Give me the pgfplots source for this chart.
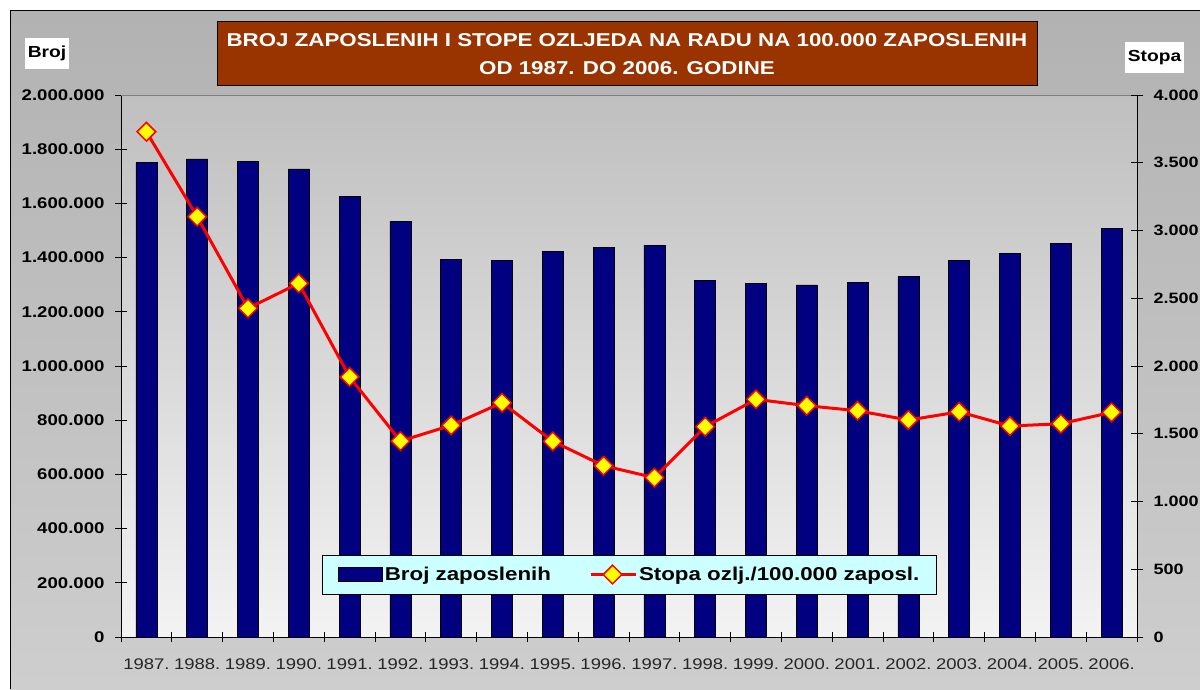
\documentclass[border=0pt]{standalone}
\usepackage{fontspec}
\setmainfont{Liberation Sans}[FakeStretch=1.2]
\usepackage{pgfplots}
\pgfplotsset{compat=1.18}
\definecolor{navybar}{HTML}{000080}
\definecolor{titlebrown}{HTML}{993300}
\definecolor{legcyan}{HTML}{CCFFFF}
\definecolor{outtop}{HTML}{B2B2B2}
\definecolor{outbot}{HTML}{CECECE}
\definecolor{plottop}{HTML}{BFBFBF}
\definecolor{plotbot}{HTML}{F3F3F3}
\definecolor{diamy}{HTML}{FFFF00}
\pgfplotsset{
  mylegline/.style={legend image code/.code={\draw[mark repeat=2,mark phase=2,##1] plot coordinates {(0pt,0pt)(22pt,0pt)(45pt,0pt)};}},
  mylegbar/.style={legend image code/.code={\draw[fill=navybar, draw=black, line width=1.2pt] (0pt,-7pt) rectangle (44pt,7pt);}},
}
\begin{document}
\begin{tikzpicture}[x=1pt,y=1pt]
\useasboundingbox (0,0) rectangle (1200,-689);
% outer chart area
\shade[top color=outtop, bottom color=outbot] (10,-10) rectangle (1200,-689);
\draw[black, line width=1pt] (10,-689) -- (10,-10) -- (1200,-10);
% title
\draw[fill=titlebrown, draw=black, line width=1pt] (217,-21) rectangle (1037,-85);
\node[text=white, font=\bfseries\fontsize{18.6}{28}\selectfont, align=center] at (627,-54) {BROJ ZAPOSLENIH I STOPE OZLJEDA NA RADU NA 100.000 ZAPOSLENIH\\OD 1987. DO 2006. GODINE};
% axis name boxes
\fill[white] (25,-38) rectangle (69,-69);
\node[font=\bfseries\fontsize{16}{19}\selectfont] at (47,-53.5) {Broj};
\fill[white] (1125,-42) rectangle (1184,-73);
\node[font=\bfseries\fontsize{16}{19}\selectfont] at (1154.5,-57.5) {Stopa};

\begin{axis}[
  at={(121pt,-637pt)}, anchor=south west,
  scale only axis, width=1016pt, height=542pt,
  xmin=-0.5, xmax=19.5, ymin=0, ymax=2000000,
  axis x line*=bottom, axis y line*=left,
  axis line style={black, line width=1pt},
  xtick={0,...,19},
  xticklabels={1987.,1988.,1989.,1990.,1991.,1992.,1993.,1994.,1995.,1996.,1997.,1998.,1999.,2000.,2001.,2002.,2003.,2004.,2005.,2006.},
  major x tick style={draw=none},
  minor xtick={-0.5,0.5,...,19.5},
  ytick={0,200000,400000,600000,800000,1000000,1200000,1400000,1600000,1800000,2000000},
  yticklabels={0,200.000,400.000,600.000,800.000,1.000.000,1.200.000,1.400.000,1.600.000,1.800.000,2.000.000},
  scaled y ticks=false,
  tick align=center, major tick length=12pt, minor tick length=10pt,
  tick style={black, line width=0.8pt},
  xticklabel style={font=\fontsize{15.4}{18}\selectfont, text=black!85, yshift=-12pt},
  yticklabel style={font=\bfseries\fontsize{15.5}{18}\selectfont, xshift=-7pt},
  /pgf/number format/assume math mode=true,
  axis background/.style={shade, top color=plottop, bottom color=plotbot},
  clip=false,
]
\draw[gray, line width=1pt] (rel axis cs:0,1) -- (rel axis cs:1,1);
\addplot[ybar, bar width=21pt, fill=navybar, draw=black, line width=0.8pt] coordinates {
(0,1750000) (1,1764000) (2,1756000) (3,1727000) (4,1626000) (5,1532000) (6,1394000) (7,1390000) (8,1422000) (9,1437000)
(10,1446000) (11,1315000) (12,1304000) (13,1299000) (14,1307000) (15,1330000) (16,1391000) (17,1414000) (18,1451000) (19,1507000)
};
\end{axis}

\begin{axis}[
  at={(121pt,-637pt)}, anchor=south west,
  scale only axis, width=1016pt, height=542pt,
  xmin=-0.5, xmax=19.5, ymin=0, ymax=4000,
  axis x line=none, axis y line*=right,
  axis line style={black, line width=1pt},
  ytick={0,500,1000,1500,2000,2500,3000,3500,4000},
  yticklabels={0,500,1.000,1.500,2.000,2.500,3.000,3.500,4.000},
  tick align=center, major tick length=12pt,
  tick style={black, line width=0.8pt},
  yticklabel style={font=\bfseries\fontsize{15}{18}\selectfont, xshift=7pt},
  /pgf/number format/assume math mode=true,
  clip=false,
  legend columns=2,
  legend style={at={(0.5005,0.1153)}, anchor=center, fill=legcyan, draw=black, line width=0.8pt,
    font=\bfseries\fontsize{18.6}{22}\selectfont, inner xsep=15pt, inner ysep=10pt,
    /tikz/every even column/.append style={column sep=36pt}},
]
\addlegendimage{mylegbar}
\addlegendentry{Broj zaposlenih}
\addplot[red, line width=3pt, mark=square*, mark size=6.6pt,
  mark options={rotate=45, fill=diamy, draw=red, line width=1.5pt}, mylegline]
coordinates {
(0,3729) (1,3102) (2,2426) (3,2610) (4,1919) (5,1446) (6,1562) (7,1729) (8,1444) (9,1264)
(10,1176) (11,1552) (12,1754) (13,1707) (14,1670) (15,1601) (16,1662) (17,1557) (18,1574) (19,1658)
};
\addlegendentry{Stopa ozlj./100.000 zaposl.}
\end{axis}
\end{tikzpicture}
\end{document}
